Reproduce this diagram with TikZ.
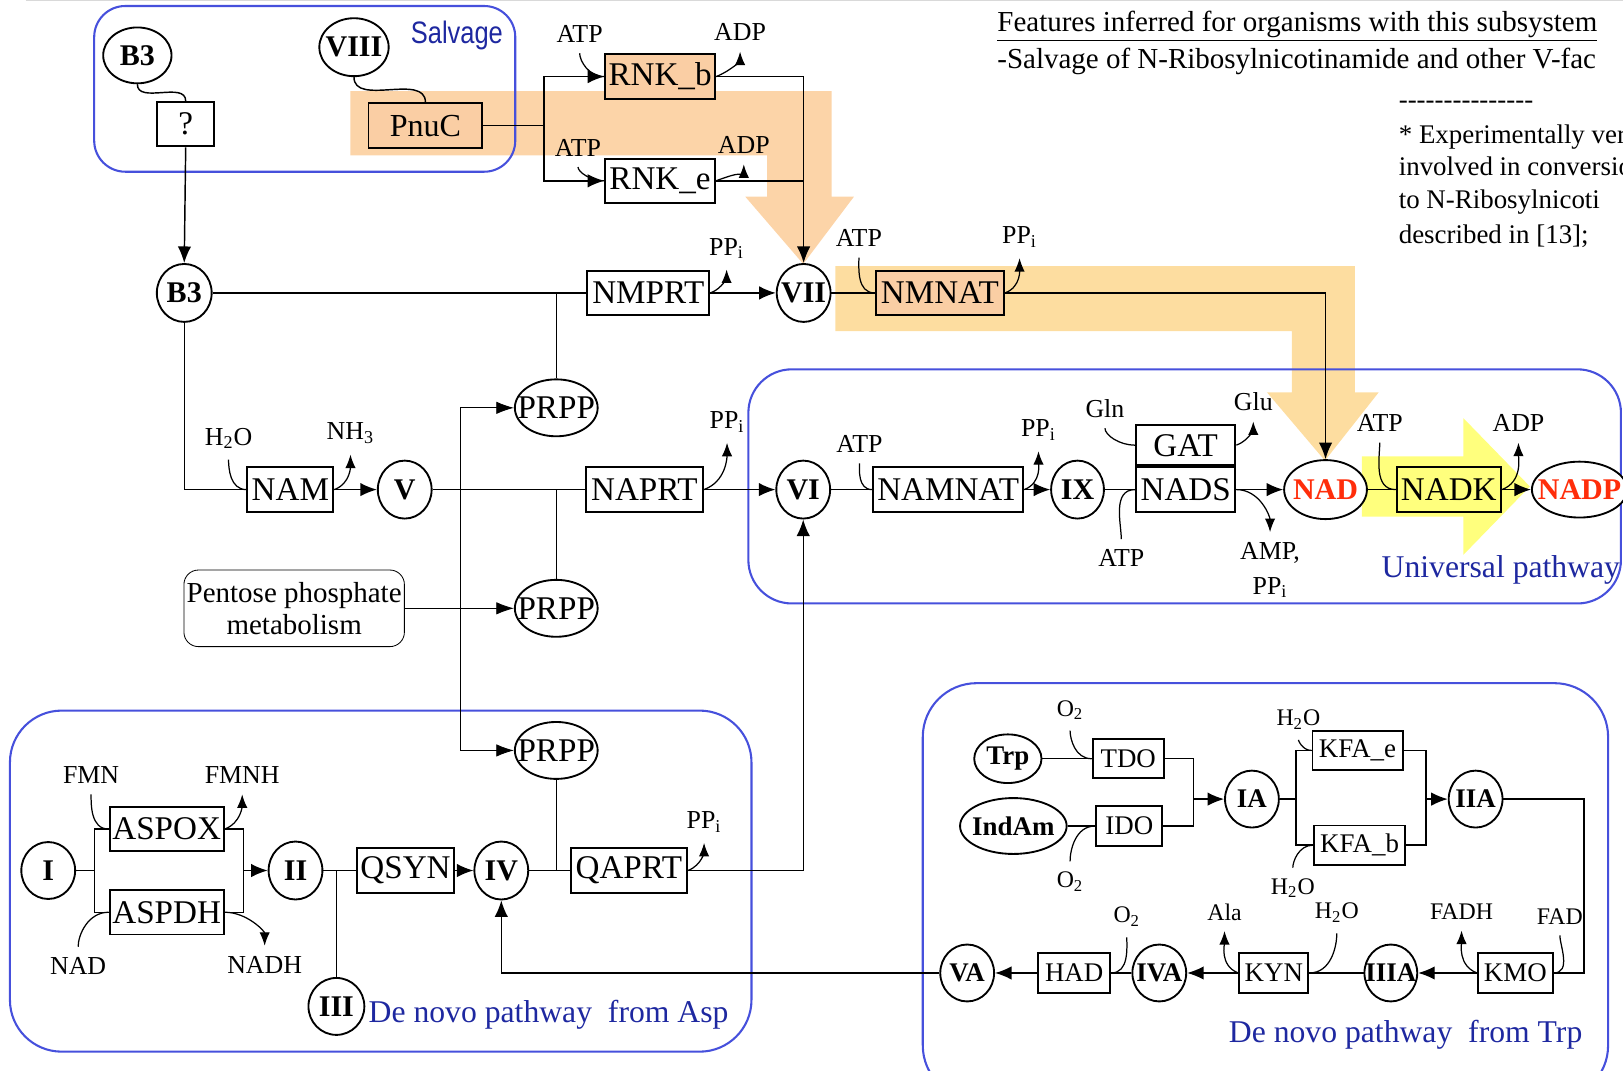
\documentclass[tikz,border=0pt]{standalone}
\usepackage{fontspec}
\setmainfont{Liberation Serif}
\newfontfamily\salvfont[FakeStretch=0.82]{Liberation Sans}
\usetikzlibrary{arrows.meta,shapes.geometric}

\definecolor{regblue}{RGB}{70,80,220}
\definecolor{txtblue}{RGB}{30,40,160}
\definecolor{nadred}{RGB}{255,45,10}
\definecolor{peacha}{RGB}{252,212,168}
\definecolor{peachb}{RGB}{253,221,160}
\definecolor{peachbox}{RGB}{250,206,164}
\definecolor{lemon}{RGB}{255,255,125}

\newcommand{\zw}[1]{\makebox[0pt]{#1}}
\newcommand{\hy}{-\kern0pt}

\begin{document}
\begin{tikzpicture}[x=0.5pt,y=-0.5pt,
  enz/.style={draw,line width=0.95pt,inner sep=0pt,minimum height=21.5pt,font=\fontsize{16}{18}\selectfont},
  tenz/.style={enz,minimum height=19pt,font=\fontsize{13}{15}\selectfont},
  met/.style={draw,ellipse,fill=white,line width=0.9pt,inner sep=0pt,minimum width=26pt,minimum height=28pt,font=\fontsize{14.5}{16}\selectfont\bfseries},
  tmet/.style={met,minimum height=27.5pt,font=\fontsize{13}{15}\selectfont\bfseries},
  prpp/.style={met,minimum width=40pt,minimum height=27.5pt,font=\fontsize{16}{18}\selectfont},
  lab/.style={inner sep=1pt,font=\fontsize{12.5}{15}\selectfont},
  tlab/.style={inner sep=1pt,font=\fontsize{11.5}{13}\selectfont},
  link/.style={line width=0.7pt},
  arr/.style={link,-{Latex[length=8pt,width=6.5pt]}},
  thinarr/.style={line width=0.4pt,-{Latex[length=8.5pt,width=6pt]}},
  cof/.style={line width=0.6pt,shorten <=4pt},
  cofarr/.style={line width=0.6pt,shorten >=4pt,-{Latex[length=6.5pt,width=5pt]}},
  region/.style={draw=regblue,line width=1pt},
  regtext/.style={text=txtblue,font=\fontsize{15.3}{18}\selectfont},
  note/.style={anchor=west,inner sep=0pt,font=\fontsize{13}{15}\selectfont},
]
\useasboundingbox (0,0) rectangle (1568,1034);
\clip (0,0) rectangle (1568,1034);
\draw[gray!30,line width=0.6pt] (25,0.8) -- (1568,0.8);

% highlighted routes
\fill[peacha] (338.6,88) -- (803.5,88) -- (803.5,190) -- (825,190) -- (776,255) -- (720,190) -- (741,190) -- (741,150) -- (338.6,150) -- cycle;
\fill[peachb] (807,257) -- (1309,257) -- (1309,379) -- (1332,379) -- (1280,445) -- (1224,379) -- (1248,379) -- (1248,320) -- (807,320) -- cycle;
\fill[lemon] (1315.6,441) -- (1413.8,441) -- (1413.8,404) -- (1478,470) -- (1413.8,536) -- (1413.8,499) -- (1315.6,499) -- cycle;

% pathway frames
\draw[region,rounded corners=15pt] (91,5.8) rectangle (497.8,165.9);
\draw[region,rounded corners=21pt] (723,356.8) rectangle (1566,583);
\draw[region,rounded corners=25pt] (9.6,686.5) rectangle (726,1016);
\draw[region,rounded corners=26pt] (891.5,660) rectangle (1553.6,1062);

% salvage
\node[met,minimum width=33pt,minimum height=27pt] (b3top) at (132.7,53.5) {\zw{B3}};
\node[met,minimum width=33.5pt,minimum height=28pt] (viii) at (342,45.6) {\zw{VIII}};
\node[enz,minimum width=27.8pt] (unk) at (179.4,120) {?};
\node[enz,fill=peachbox,minimum width=55pt,font=\fontsize{15.5}{18}\selectfont] (pnuc) at (411,121.3) {PnuC};
\node[regtext,font=\salvfont\fontsize{15}{18}\selectfont] (salv) at (441.4,33.8) {Salvage};
\node[enz,fill=peachbox,minimum width=53pt] (rnkb) at (637.7,74) {RNK\_b};
\node[enz,minimum width=53pt] (rnke) at (637.7,174.7) {RNK\_e};

% NMN / NaMN rows
\node[met,minimum width=26.5pt] (b3) at (178,283) {\zw{B3}};
\node[enz,minimum width=59pt] (nmprt) at (626.4,283) {NMPRT};
\node[met] (vii) at (776.4,283) {\zw{VII}};
\node[enz,fill=peachbox,minimum width=62pt] (nmnat) at (908,283) {NMNAT};
\node[prpp] (prpp1) at (537.4,394) {\zw{PRPP}};
\node[prpp] (prpp2) at (537.4,587.7) {\zw{PRPP}};
\node[prpp] (prpp3) at (537.4,725) {\zw{PRPP}};
\node[draw,rounded corners=7pt,line width=0.4pt,inner sep=0pt,minimum width=106.5pt,minimum height=37pt,align=center,font=\fontsize{14}{15.3}\selectfont] (ppm) at (284.2,587.7) {Pentose phosphate\\metabolism};
\node[enz,minimum width=41.5pt] (nam) at (280.5,473) {NAM};
\node[met] (v) at (391,473) {\zw{V}};
\node[enz,minimum width=56.5pt] (naprt) at (622.6,473) {NAPRT};

% universal pathway
\node[met] (vi) at (776,473) {\zw{VI}};
\node[enz,minimum width=72.5pt] (namnat) at (916,473) {NAMNAT};
\node[met,minimum width=25.5pt] (ix) at (1041,473) {\zw{IX}};
\node[enz,minimum width=48pt] (nads) at (1145.5,473) {NADS};
\node[enz,minimum width=48pt,minimum height=19.5pt,anchor=south] (gat) at (nads.north) {GAT};
\node[met,minimum width=40pt,minimum height=28.5pt,text=nadred] (nad) at (1280.6,473) {\zw{NAD}};
\node[enz,fill=lemon,minimum width=50.3pt] (nadk) at (1399.7,473) {NADK};
\node[met,minimum width=46pt,minimum height=27pt,text=nadred] (nadp) at (1526,473) {\zw{NADP}};
\node[regtext] (univ) at (1450,551) {Universal pathway};

% de novo from Asp
\node[met,minimum height=27.5pt] (i) at (46.6,841) {\zw{I}};
\node[enz,minimum width=55pt] (aspox) at (161,801) {ASPOX};
\node[enz,minimum width=55pt] (aspdh) at (161,881.3) {ASPDH};
\node[met] (ii) at (285.5,841) {\zw{II}};
\node[enz,minimum width=47pt] (qsyn) at (391.8,841) {QSYN};
\node[met,minimum width=27pt,minimum height=27.5pt] (iii) at (325,972.3) {\zw{III}};
\node[met] (iv) at (484.3,841) {\zw{IV}};
\node[enz,minimum width=56pt] (qaprt) at (607.6,841) {QAPRT};
\node[regtext] (asptxt) at (530,980.7) {De novo pathway\ \ from Asp};

% de novo from Trp
\node[tmet,minimum width=32.5pt,minimum height=23.5pt] (trp) at (973.7,733) {\zw{Trp}};
\node[tenz,minimum width=34.5pt] (tdo) at (1090,733) {TDO};
\node[tmet,minimum width=51.5pt,minimum height=27pt] (indam) at (979,798) {\zw{IndAm}};
\node[tenz,minimum width=32pt] (ido) at (1091,798) {IDO};
\node[tmet] (ia) at (1209.5,772) {\zw{IA}};
\node[tenz,minimum width=43.5pt] (kfae) at (1311.5,725) {KFA\_e};
\node[tenz,minimum width=44pt] (kfab) at (1313.5,816.5) {KFA\_b};
\node[tmet] (iia) at (1425.6,772) {\zw{IIA}};
\node[tenz,minimum width=36pt] (kmo) at (1464,940) {KMO};
\node[tmet,minimum width=25.5pt] (iiia) at (1343.7,940) {\zw{IIIA}};
\node[tenz,minimum width=33.3pt] (kyn) at (1230.7,940) {KYN};
\node[tmet] (iva) at (1120,940) {\zw{IVA}};
\node[tenz,minimum width=34.7pt] (had) at (1037.8,940) {HAD};
\node[tmet] (va) at (934.4,940) {\zw{VA}};
\node[regtext] (trptxt) at (1358,1000) {De novo pathway\ \ from Trp};

% cofactors
\foreach \n/\x/\y/\txt in {atpa/560/32.8/ATP, adpa/715/31.2/ADP, atpb/558.4/142.7/ATP, adpb/718.6/140.1/ADP,
    ppa/702/240/PP\textsubscript{i}, atpc/829.8/230.3/ATP, ppb/985/229/PP\textsubscript{i},
    h2oa/220.8/423.5/H\textsubscript{2}O, nh3/338.6/418.7/NH\textsubscript{3}, ppc/702.4/407.4/PP\textsubscript{i},
    atpd/830.3/429/ATP, ppd/1003.3/415.5/PP\textsubscript{i}, gln/1067.5/394.5/Gln, glu/1210.8/388/Glu,
    atpe/1083.3/539.4/ATP, atpf/1333/409/ATP, adpc/1467/409/ADP,
    fmn/88/748.8/FMN, fmnh/234/748.8/FMNH, nadl/75.5/933.3/NAD, nadh/255.7/932.4/NADH, ppe/680.2/793.9/PP\textsubscript{i}}
  \node[lab] (\n) at (\x,\y) {\txt};
\node[lab,align=center,font=\fontsize{12.5}{16.5}\selectfont] (amp) at (1227,551) {AMP,\\PP\textsubscript{i}};
\foreach \n/\x/\y/\txt in {o2a/1033.8/686/O\textsubscript{2}, o2b/1033.8/852/O\textsubscript{2}, o2c/1088.6/885.7/O\textsubscript{2},
    h2ob/1254.4/695/H\textsubscript{2}O, h2oc/1249/858/H\textsubscript{2}O, h2od/1291.5/882/H\textsubscript{2}O,
    ala/1183/881/Ala, fadh/1412/881/FADH, fad/1507/885.7/FAD}
  \node[tlab] (\n) at (\x,\y) {\txt};

% notes
\node[note,font=\fontsize{14}{16}\selectfont] (feat) at (963.2,25.8) {\underline{Features inferred for organisms with this subsystem}};
\node[note,font=\fontsize{14}{16}\selectfont] (salvnote) at (963.2,59.6) {-Salvage of N-Ribosylnicotinamide and other V-fac};
\node[note] (dashes) at (1351,101.4) {\hy\hy\hy\hy\hy\hy\hy\hy\hy\hy\hy\hy\hy\hy\hy};
\node[note] (nta) at (1351,132) {* Experimentally ver};
\node[note] (ntb) at (1351,161) {involved in conversio};
\node[note] (ntc) at (1351,194.9) {to N-Ribosylnicoti};
\node[note] (ntd) at (1351,228.7) {described in [13];};

% salvage links
\draw[link] (b3top.south) to[out=-90,in=90] (unk.north);
\draw[link] (viii.south) to[out=-90,in=90] (pnuc.north);
\coordinate (jp) at (525.5,121.3);
\draw[link] (pnuc.east) -- (jp);
\draw[arr] (jp) |- (rnkb.west);
\draw[arr] (jp) |- (rnke.west);
\draw[arr] (rnkb.east) -| (vii.north);
\draw[link] (rnke.east) -- (rnke.east -| vii.north);
\draw[arr] (unk.south) -- (b3.north);

% main links
\draw[link] (b3.east) -- (nmprt.west);
\draw[link] (prpp1.north) -- (prpp1.north |- nmprt.west);
\draw[arr] (nmprt.east) -- (vii.west);
\draw[link] (vii.east) -- (nmnat.west);
\draw[arr] (nmnat.east) -| (nad.north);
\draw[link] (b3.south) |- (nam.west);
\draw[arr] (nam.east) -- (v.west);
\draw[link] (v.east) -- (naprt.west);
\draw[link] (prpp2.north) -- (prpp2.north |- naprt.west);
\draw[arr] (naprt.east) -- (vi.west);
\draw[link] (vi.east) -- (namnat.west);
\draw[arr] (namnat.east) -- (ix.west);
\draw[link] (ix.east) -- (nads.west);
\draw[arr] (nads.east) -- (nad.west);
\draw[link] (nad.east) -- (nadk.west);
\draw[arr] (nadk.east) -- (nadp.west);
\coordinate (pv) at (444.4,587.7);
\draw[thinarr] (ppm.east) -- (prpp2.west);
\draw[thinarr] (pv |- prpp3.west) |- (prpp1.west);
\draw[thinarr] (pv |- prpp1.west) |- (prpp3.west);

% asp links
\coordinate (ja) at (91.3,841);
\coordinate (jb) at (235.5,841);
\draw[link] (i.east) -- (ja);
\draw[link] (ja) |- (aspox.west);
\draw[link] (ja) |- (aspdh.west);
\draw[link] (aspox.east) -| (jb);
\draw[link] (aspdh.east) -| (jb);
\draw[arr] (jb) -- (ii.west);
\draw[link] (ii.east) -- (qsyn.west);
\draw[link] (iii.north) -- (iii.north |- qsyn.west);
\draw[arr] (qsyn.east) -- (iv.west);
\draw[link] (iv.east) -- (qaprt.west);
\draw[link] (prpp3.south) -- (prpp3.south |- qaprt.west);
\draw[arr] (qaprt.east) -| (vi.south);
\draw[arr] (va.west) -| (iv.south);

% trp links
\coordinate (jc) at (1153.3,772);
\coordinate (jd) at (1252,772);
\coordinate (je) at (1377.8,772);
\coordinate (jf) at (1530.5,940);
\draw[link] (trp.east) -- (tdo.west);
\draw[link] (indam.east) -- (ido.west);
\draw[link] (tdo.east) -| (jc);
\draw[link] (ido.east) -| (jc);
\draw[arr] (jc) -- (ia.west);
\draw[link] (ia.east) -- (jd);
\draw[link] (jd) |- (kfae.west);
\draw[link] (jd) |- (kfab.west);
\draw[link] (kfae.east) -| (je);
\draw[link] (kfab.east) -| (je);
\draw[arr] (je) -- (iia.west);
\draw[link] (iia.east) -| (jf) -- (kmo.east);
\draw[arr] (kmo.west) -- (iiia.east);
\draw[link] (iiia.west) -- (kyn.east);
\draw[arr] (kyn.west) -- (iva.east);
\draw[link] (iva.west) -- (had.east);
\draw[arr] (had.west) -- (va.east);

% cofactor curves
\foreach \lb/\bx in {atpa/rnkb, atpb/rnke, atpc/nmnat, h2oa/nam, atpd/namnat, gln/gat, atpf/nadk, fmn/aspox, o2a/tdo, h2ob/kfae}
  \draw[cof] (\lb.south) to[out=-90,in=180] (\bx.west);
\foreach \lb/\bx in {atpe/nads, nadl/aspdh, o2b/ido, h2oc/kfab}
  \draw[cof] (\lb.north) to[out=90,in=180] (\bx.west);
\foreach \bx/\lb in {rnkb/adpa, rnke/adpb, nmprt/ppa, nmnat/ppb, nam/nh3, naprt/ppc, namnat/ppd, gat/glu, nadk/adpc, aspox/fmnh, qaprt/ppe}
  \draw[cofarr] (\bx.east) to[out=20,in=-90] (\lb.south);
\foreach \bx/\lb in {nads/amp, aspdh/nadh}
  \draw[cofarr] (\bx.east) to[out=0,in=90] (\lb.north);
\foreach \lb/\bx in {fad/kmo, h2od/kyn, o2c/had}
  \draw[cof] (\lb.south) to[out=-90,in=0] (\bx.east);
\foreach \bx/\lb in {kmo/fadh, kyn/ala}
  \draw[cofarr] (\bx.west) to[out=160,in=-90] (\lb.south);
\end{tikzpicture}
\end{document}
